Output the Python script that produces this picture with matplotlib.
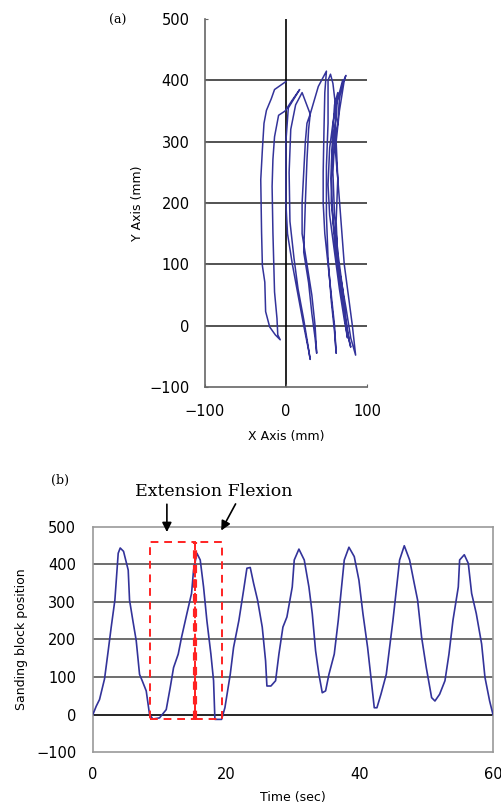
import matplotlib
matplotlib.use("Agg")
import matplotlib.pyplot as plt
from matplotlib import patches

# panel (a): hand path of the sanding block (mm)
path_x = [0, -14, -18, -24, -27, -29, -31, -30, -29, -26, -25, -20, -13, -7,
          -10, -11, -14, -16, -17, -16, -14, -9, -1, 8, 17,
          10, 3, 0, 0, 2, 8, 15, 22, 28, 30,
          27, 22, 15, 10, 5, 4, 6, 12, 20, 30,
          26, 24, 22, 20, 20, 26, 32, 36, 38,
          36, 32, 28, 22, 24, 26, 28, 30, 40, 50,
          48, 47, 46, 46, 48, 52, 56, 60, 62,
          60, 56, 52, 50, 50, 52, 52, 55, 58,
          62, 60, 58, 60, 64, 70, 74, 78, 80,
          76, 70, 64, 62, 64, 62, 66, 72, 74,
          70, 66, 64, 60, 64, 68, 72, 78, 82, 86,
          80, 74, 66, 60, 56, 56, 58, 60, 64,
          62, 58, 56, 58, 62, 68, 72, 76,
          72, 66, 60, 54, 52, 54, 58, 62, 68, 70]
path_y = [398, 385, 370, 351, 330, 287, 238, 152, 98, 71, 23, -2, -15, -23,
          -15, 12, 55, 152, 227, 271, 308, 343, 350, 368, 385,
          370, 355, 300, 200, 150, 100, 50, 0, -40, -55,
          -30, 10, 60, 110, 170, 250, 320, 360, 380, 345,
          330, 300, 250, 200, 150, 100, 50, 0, -45,
          -20, 20, 70, 120, 200, 270, 320, 345, 390, 415,
          380, 320, 250, 200, 150, 100, 50, 0, -45,
          -10, 40, 110, 180, 260, 330, 400, 410, 395,
          350, 300, 250, 180, 120, 60, 10, -25, -35,
          -10, 40, 110, 170, 240, 300, 350, 400, 408,
          395, 370, 330, 300, 240, 170, 100, 40, 0, -48,
          -20, 30, 90, 150, 200, 260, 320, 360, 380,
          340, 300, 240, 170, 110, 60, 20, -20,
          10, 60, 120, 180, 230, 290, 330, 360, 390, 400]

# panel (b): sanding block position over time
time_s = [0, 0.5, 1, 1.75, 2.3, 2.75, 3.3, 3.8, 4.1, 4.6, 5.3, 5.5, 6, 6.5, 7.0,
          7.4, 8.0, 8.5, 9.0, 10, 11, 11.6, 12.1, 12.8, 13.3, 14.1, 14.8, 15.1,
          15.6, 16.1, 16.6, 17.1, 17.7, 18.1, 18.3, 19.3, 19.8, 20.6, 21.1, 21.9,
          22.6, 23.1, 23.6, 24.1, 24.7, 25.4, 25.9, 26.1, 26.7, 27.4, 27.9, 28.5,
          29.1, 29.9, 30.2, 30.9, 31.7, 32.4, 32.9, 33.4, 33.9, 34.4, 34.9, 35.4,
          36.2, 36.8, 37.2, 37.7, 38.4, 39.2, 39.9, 40.5, 41.2, 41.7, 42.2, 42.6,
          43.2, 44.0, 44.5, 45.0, 45.5, 46.0, 46.7, 47.5, 48.2, 48.7, 49.3, 50.0,
          50.8, 51.3, 52.0, 52.8, 53.4, 54.0, 54.8, 55.0, 55.7, 56.3, 56.8, 57.5,
          58.3, 58.8, 59.5, 60]
position = [0, 22, 40, 95, 170, 233, 305, 430, 444, 435, 385, 305, 250, 197, 107,
            90, 63, 0, -12, -9, 13, 72, 125, 161, 206, 269, 323, 385,
            430, 412, 340, 250, 161, 90, -13, -13, 18, 107, 179, 251,
            331, 390, 392, 350, 305, 233, 143, 76, 76, 90, 161, 233,
            260, 340, 412, 441, 412, 340, 269, 170, 107, 58, 63, 107,
            161, 251, 323, 412, 446, 421, 358, 269, 179, 99, 18, 18,
            54, 107, 179, 251, 331, 412, 450, 412, 349, 305, 206, 125,
            45, 36, 54, 90, 161, 251, 340, 412, 426, 403, 323, 269,
            188, 99, 36, 0]

box_edges = [8.55, 15.3, 19.3]
box_low, box_high = -12, 460

line_col = '#33339a'
tick_font = 10.5

fig = plt.figure(figsize=(5.02, 8.08), dpi=100)

# ---------- (a) ----------
ax1 = fig.add_axes([0.408, 0.521, 0.323, 0.4555])
for yv in [0, 100, 200, 300, 400]:
    ax1.axhline(yv, color='#444444', lw=1.3, zorder=1)
ax1.axvline(0, color='black', lw=1.2, zorder=1)
ax1.plot(path_x, path_y, color=line_col, lw=1.1, zorder=2)
ax1.set_xlim(-100, 100)
ax1.set_ylim(-100, 500)
ax1.set_xticks([-100, 0, 100])
ax1.set_yticks([-100, 0, 100, 200, 300, 400, 500])
ax1.spines['top'].set_visible(False)
ax1.spines['right'].set_visible(False)
for s in ['left', 'bottom']:
    ax1.spines[s].set_color('#666666')
    ax1.spines[s].set_linewidth(1.2)
ax1.tick_params(direction='in', length=2, labelsize=tick_font, color='#666666')
ax1.tick_params(axis='y', pad=11)
ax1.tick_params(axis='x', pad=12)
ax1.set_xlabel('X Axis (mm)', fontsize=9, labelpad=8)
ax1.set_ylabel('Y Axis (mm)', fontsize=9, labelpad=4)
fig.text(118 / 502, 1 - 20 / 808, '(a)', family='DejaVu Serif', fontsize=9,
         ha='center', va='center')

# ---------- (b) ----------
ax2 = fig.add_axes([0.185, 0.0693, 0.797, 0.2785])
for yv in [100, 200, 300, 400]:
    ax2.axhline(yv, color='#555555', lw=1.2, zorder=1)
ax2.axhline(0, color='black', lw=1.2, zorder=1)
ax2.plot(time_s, position, color=line_col, lw=1.2, zorder=3)
for i in range(len(box_edges) - 1):
    ax2.add_patch(patches.Rectangle((box_edges[i], box_low),
                                    box_edges[i + 1] - box_edges[i],
                                    box_high - box_low, fill=False,
                                    ec='#ff2222', lw=1.4, ls=(0, (4, 3)),
                                    zorder=4))
ax2.plot([box_edges[1], box_edges[1]], [box_low, box_high], color='#ff2222',
         lw=3, ls=(0, (2, 1.5)), zorder=4)
ax2.set_xlim(0, 60)
ax2.set_ylim(-100, 500)
ax2.set_xticks([0, 20, 40, 60])
ax2.set_yticks([-100, 0, 100, 200, 300, 400, 500])
for s in ax2.spines.values():
    s.set_color('#999999')
    s.set_linewidth(1.2)
ax2.tick_params(length=0, labelsize=tick_font)
ax2.tick_params(axis='y', pad=12)
ax2.tick_params(axis='x', pad=11)
ax2.set_xlabel('Time (sec)', fontsize=9, labelpad=6)
ax2.set_ylabel('Sanding block position', fontsize=9, labelpad=6)

ax2.annotate('', xy=(11.1, 479), xytext=(11.1, 568), annotation_clip=False,
             arrowprops=dict(arrowstyle='-|>', color='black', lw=1.2,
                             mutation_scale=14))
ax2.annotate('', xy=(19.05, 484), xytext=(21.6, 568), annotation_clip=False,
             arrowprops=dict(arrowstyle='-|>', color='black', lw=1.2,
                             mutation_scale=14))
fig.text(214 / 502, 1 - 492 / 808, 'Extension Flexion', family='DejaVu Serif',
         fontsize=12.5, ha='center', va='center')
fig.text(60 / 502, 1 - 480 / 808, '(b)', family='DejaVu Serif', fontsize=9,
         ha='center', va='center')

fig.savefig('out.png', dpi=100)
